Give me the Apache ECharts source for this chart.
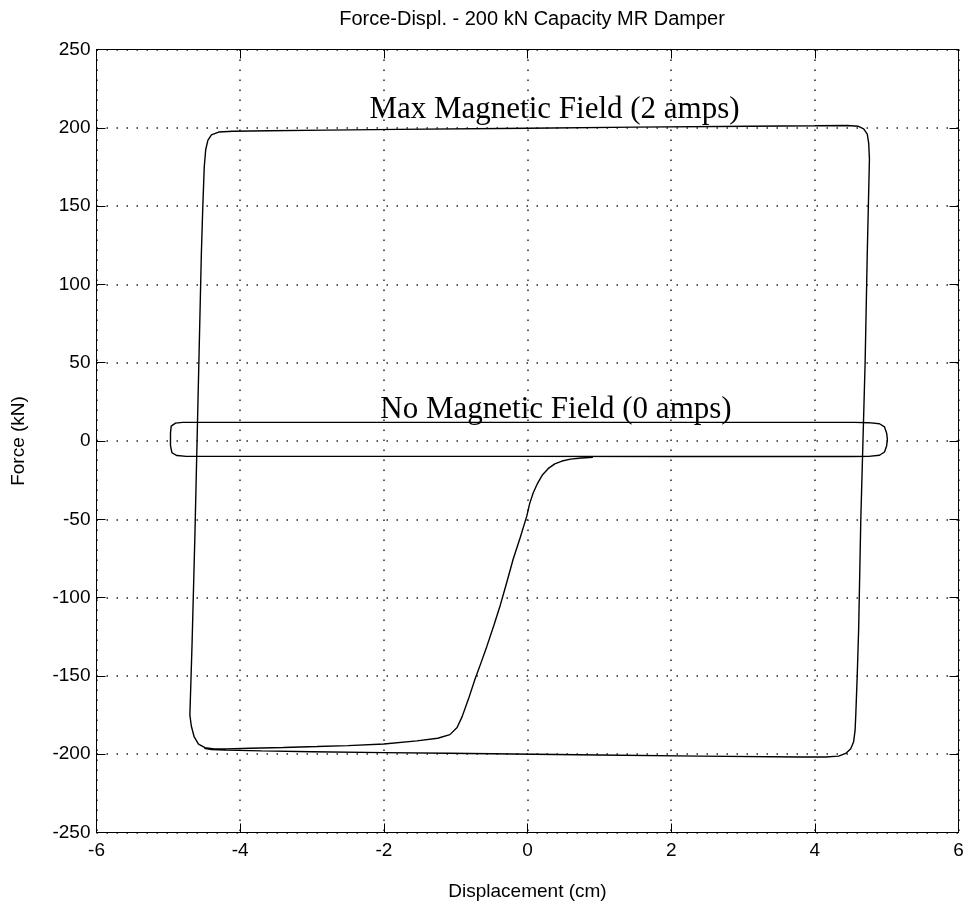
<!DOCTYPE html>
<html>
<head>
<meta charset="utf-8">
<script src="https://cdn.jsdelivr.net/npm/echarts@6/dist/echarts.min.js"></script>
<style>
html,body{margin:0;padding:0;background:#fff;}
#chart{width:969px;height:916px;}
</style>
</head>
<body>
<div id="chart"></div>
<script>
// ---- data ----
const titleText = 'Force-Displ. - 200 kN Capacity MR Damper';
const xName = 'Displacement (cm)';
const yName = 'Force (kN)';
const maxFieldLabel = 'Max Magnetic Field (2 amps)';
const noFieldLabel = 'No Magnetic Field (0 amps)';

// Max magnetic field (2 amps) hysteresis path: displacement (cm)
const maxFieldX = [
  0.91, 0.75, 0.6, 0.48, 0.38, 0.29, 0.21, 0.14, 0.08, 0.03, -0.01, -0.1, -0.2, -0.29, -0.38,
  -0.47, -0.565, -0.65, -0.73, -0.82, -0.91, -0.98, -1.08, -1.25, -1.54, -2.0, -2.5, -2.93,
  -3.4, -3.86, -4.2, -4.36, -4.49, -4.58, -4.64, -4.68, -4.70, -4.67, -4.63, -4.60, -4.57,
  -4.54, -4.52, -4.50, -4.48, -4.45, -4.40, -4.30, -4.1, -3.6, -2.8, -1.8, 0, 1.5, 3.1, 4.0,
  4.45, 4.6, 4.68, 4.73, 4.75, 4.76, 4.73, 4.70, 4.67, 4.64, 4.61, 4.59, 4.57, 4.56, 4.54,
  4.5, 4.43, 4.33, 4.15, 3.8, 2.4, 1, -0.5, -1.1, -2.0, -3.0, -3.7, -4.2, -4.4, -4.5
];
// Max magnetic field force (kN)
const maxFieldY = [
  -10.4, -10.9, -11.6, -12.8, -14.6, -17.5, -21.5, -27, -33, -40, -48, -61.5, -75.5, -90.5, -105,
  -118, -131, -142, -152, -164.5, -176, -183, -187.5, -189.8, -191.5, -193.5, -194.5, -195.1,
  -195.7, -196.2, -196.6, -196.6, -195.8, -193.5, -189, -182, -175, -130, -60, 0, 60,
  120, 150, 175, 186, 192, 195.5, 197.3, 197.8, 198.1, 198.5, 199, 199.7, 200.4, 201, 201.3,
  201.5, 201, 199.3, 196, 190, 180, 120, 50, 0, -50, -120, -150, -175, -185, -192,
  -196.5, -199.5, -201.2, -201.8, -201.8, -201.2, -200.5, -199.7, -199.4, -199, -198.4, -197.9, -197.4, -197, -196.3
];

// No magnetic field (0 amps) loop: displacement (cm)
const noFieldX = [
  -4.80, -2, 0, 2, 3.8, 4.55, 4.75, 4.9, 4.97, 5.0, 5.01, 5.0, 4.97, 4.9, 4.75, 4.5, 2, 0, -2,
  -4.75, -4.88, -4.95, -4.97, -4.97, -4.96, -4.9, -4.80
];
// No magnetic field force (kN)
const noFieldY = [
  11.9, 11.9, 11.9, 11.9, 11.9, 11.9, 11.7, 11, 9, 5, 1, -3, -7, -9.1, -9.8, -9.9, -9.9, -9.8, -9.8,
  -9.8, -9.3, -7.5, -3, 5, 9.5, 11.4, 11.9
];

const xTicks = {min: -6, max: 6, interval: 2};
const yTicks = {min: -250, max: 250, interval: 50};

// ---- chart ----
const chart = echarts.init(document.getElementById('chart'), null, {renderer: 'canvas'});
const sans = 'Liberation Sans, Arial, sans-serif';
const serif = 'Liberation Serif, Times New Roman, serif';
const gridLeft = 96.5, gridTop = 49.5, gridRight = 969 - 958.5, gridBottom = 916 - 832.5;

function zip(xs, ys) { return xs.map((x, i) => [x, ys[i]]); }

const axisLineStyle = {color: '#000', width: 1};
const tickStyle = {inside: true, length: 9, lineStyle: {color: '#000', width: 1}};
const splitStyle = {show: true, lineStyle: {color: '#222', width: 1.5, type: [1.5, 8.5]}};

chart.setOption({
  animation: false,
  backgroundColor: '#fff',
  title: {
    text: titleText,
    left: 527, top: 4, textAlign: 'center',
    textStyle: {fontFamily: sans, fontSize: 20, fontWeight: 'normal', color: '#000'}
  },
  grid: {left: gridLeft, top: gridTop, right: gridRight, bottom: gridBottom, containLabel: false},
  xAxis: [
    {
      type: 'value', position: 'bottom', min: xTicks.min, max: xTicks.max, interval: xTicks.interval,
      axisLine: {show: true, onZero: false, lineStyle: axisLineStyle},
      axisTick: tickStyle,
      axisLabel: {margin: 9, fontFamily: sans, fontSize: 19, color: '#000'},
      splitLine: splitStyle,
      name: xName, nameLocation: 'middle', nameGap: 50,
      nameTextStyle: {fontFamily: sans, fontSize: 19, color: '#000'}
    },
    {
      type: 'value', position: 'top', min: xTicks.min, max: xTicks.max, interval: xTicks.interval,
      axisLine: {show: true, onZero: false, lineStyle: axisLineStyle},
      axisTick: tickStyle, axisLabel: {show: false}, splitLine: {show: false}
    }
  ],
  yAxis: [
    {
      type: 'value', position: 'left', min: yTicks.min, max: yTicks.max, interval: yTicks.interval,
      axisLine: {show: true, onZero: false, lineStyle: axisLineStyle},
      axisTick: tickStyle,
      axisLabel: {margin: 6, fontFamily: sans, fontSize: 19, color: '#000'},
      splitLine: splitStyle,
      name: yName, nameLocation: 'middle', nameGap: 68, nameRotate: 90,
      nameTextStyle: {fontFamily: sans, fontSize: 19, color: '#000'}
    },
    {
      type: 'value', position: 'right', min: yTicks.min, max: yTicks.max, interval: yTicks.interval,
      axisLine: {show: true, onZero: false, lineStyle: axisLineStyle},
      axisTick: tickStyle, axisLabel: {show: false}, splitLine: {show: false}
    }
  ],
  series: [
    {
      type: 'line', name: maxFieldLabel, xAxisIndex: 0, yAxisIndex: 0,
      data: zip(maxFieldX, maxFieldY), showSymbol: false, symbol: 'none', smooth: false,
      lineStyle: {color: '#000', width: 1.4}, z: 5
    },
    {
      type: 'line', name: noFieldLabel, xAxisIndex: 0, yAxisIndex: 0,
      data: zip(noFieldX, noFieldY), showSymbol: false, symbol: 'none', smooth: false,
      lineStyle: {color: '#000', width: 1.4}, z: 5
    }
  ],
  graphic: [
    {
      type: 'text', x: 554.5, y: 110, z: 10,
      style: {text: maxFieldLabel, fill: '#000', font: '31px ' + serif, align: 'center', verticalAlign: 'middle'}
    },
    {
      type: 'text', x: 556, y: 410, z: 10,
      style: {text: noFieldLabel, fill: '#000', font: '31px ' + serif, align: 'center', verticalAlign: 'middle'}
    }
  ]
});
</script>
</body>
</html>
